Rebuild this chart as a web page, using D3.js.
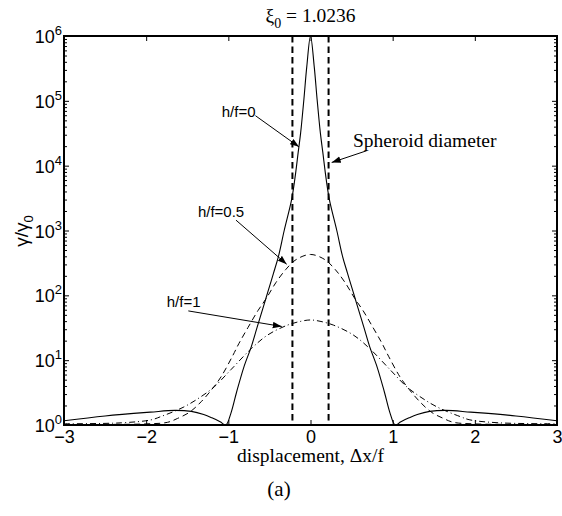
<!DOCTYPE html>
<html>
<head>
<meta charset="utf-8">
<script src="https://cdn.jsdelivr.net/npm/d3@7"></script>
<style>
  html, body { margin: 0; padding: 0; background: #fff; }
  svg { display: block; }
</style>
</head>
<body>
<svg id="chart" width="562" height="516"></svg>
<script>
// ---- data ----------------------------------------------------------------
const xTicks = [-3, -2, -1, 0, 1, 2, 3];
const yTicks = [1, 1e1, 1e2, 1e3, 1e4, 1e5, 1e6];

// h/f = 0 (solid)
const xSolid = [-3, -2.5, -1.95, -1.65, -1.45, -1.3, -1.2, -1.1, -1.03, -0.97,
  -0.9, -0.81, -0.72, -0.65, -0.56, -0.52, -0.45, -0.39, -0.32, -0.23,
  -0.19, -0.15, -0.12, -0.08, -0.045, 0, 0.045, 0.08, 0.12, 0.15,
  0.19, 0.23, 0.32, 0.39, 0.45, 0.52, 0.56, 0.65, 0.72, 0.81,
  0.9, 0.97, 1.03, 1.1, 1.2, 1.3, 1.45, 1.65, 1.95, 2.5, 3];
const gSolid = [1.16, 1.38, 1.58, 1.68, 1.62, 1.45, 1.29, 1.12, 1.0, 1.5,
  3.2, 7.9, 16.2, 32, 76, 112, 220, 400, 1000, 3000,
  6300, 16000, 32000, 107000, 340000, 1000000, 340000, 107000, 32000, 16000,
  6300, 3000, 1000, 400, 220, 112, 76, 32, 16.2, 7.9,
  3.2, 1.5, 1.0, 1.12, 1.29, 1.45, 1.62, 1.68, 1.58, 1.38, 1.16];

// h/f = 0.5 (dashed)
const xHalf = [-3, -2.5, -2.0, -1.74, -1.62, -1.47, -1.33, -1.2, -1.09, -0.95,
  -0.87, -0.76, -0.64, -0.54, -0.42, -0.30, -0.176, 0, 0.176, 0.30,
  0.42, 0.54, 0.64, 0.76, 0.87, 0.95, 1.09, 1.2, 1.33, 1.47,
  1.62, 1.74, 2.0, 2.5, 3];
const gHalf = [1.015, 1.02, 1.04, 1.10, 1.26, 1.58, 2.29, 3.55, 5.5, 11.5,
  18.2, 32, 58, 89, 158, 251, 355, 427, 355, 251,
  158, 89, 58, 32, 18.2, 11.5, 5.5, 3.55, 2.29, 1.58,
  1.26, 1.10, 1.04, 1.02, 1.015];

// h/f = 1 (dash-dot)
const xOne = [-3, -2.3, -1.94, -1.82, -1.54, -1.33, -1.17, -0.97, -0.72, -0.52,
  -0.28, -0.116, 0, 0.116, 0.28, 0.52, 0.72, 0.97, 1.17, 1.33,
  1.54, 1.82, 1.94, 2.3, 3];
const gOne = [1.045, 1.08, 1.2, 1.35, 1.9, 2.75, 3.9, 7.1, 15.1, 24.5,
  34.7, 39.8, 41.7, 39.8, 34.7, 24.5, 15.1, 7.1, 3.9, 2.75,
  1.9, 1.35, 1.2, 1.08, 1.045];

// spheroid diameter markers
const spheroidEdges = [-0.22, 0.22];

// annotation labels: text anchor point and arrow (data coordinates)
const noteText = ["h/f=0", "Spheroid diameter", "h/f=0.5", "h/f=1"];
const noteAt = [[-1.08, 5.6e4], [0.517, 1.95e4], [-1.37, 1620], [-1.75, 66.8]];
const noteFrom = [[-0.67, 5.9e4], [0.684, 1.7e4], [-0.907, 1445], [-1.487, 57.5]];
const noteTo = [[-0.14, 1.95e4], [0.258, 1.12e4], [-0.29, 302], [-0.35, 33.1]];

// ---- layout ----------------------------------------------------------------
const L = 64, R = 557, T = 36, B = 425;
const sans = "'Liberation Sans', Arial, Helvetica, sans-serif";
const serif = "'Liberation Serif', 'Times New Roman', serif";

const svg = d3.select("#chart");
const x = d3.scaleLinear().domain([-3, 3]).range([L, R]);
const y = d3.scaleLog().domain([1, 1e6]).range([B, T]);

const defs = svg.append("defs");
defs.append("clipPath").attr("id", "plotClip")
  .append("rect").attr("x", L).attr("y", T - 1).attr("width", R - L).attr("height", B - T + 1);
defs.append("marker").attr("id", "head")
  .attr("markerUnits", "userSpaceOnUse")
  .attr("markerWidth", 10).attr("markerHeight", 7)
  .attr("refX", 9).attr("refY", 3.2).attr("orient", "auto")
  .append("path").attr("d", "M0,0 L9,3.2 L0,6.4 Z").attr("fill", "#000");

// ---- axes ------------------------------------------------------------------
const minor = y.ticks().filter(v => !yTicks.includes(v));

function styleAxis(g) {
  g.select(".domain").remove();
  g.selectAll(".tick line").attr("stroke", "#000").attr("stroke-width", 1);
}

svg.append("g").attr("transform", `translate(0,${B})`)
  .call(d3.axisBottom(x).tickValues(xTicks).tickSize(-5).tickPadding(5).tickFormat(d3.format("d")))
  .call(styleAxis)
  .call(g => g.selectAll("text").attr("font-family", sans).attr("font-size", 18).attr("fill", "#000"));

svg.append("g").attr("transform", `translate(0,${T})`)
  .call(d3.axisTop(x).tickValues(xTicks).tickSize(-5).tickFormat(""))
  .call(styleAxis);

svg.append("g").attr("transform", `translate(${L},0)`)
  .call(d3.axisLeft(y).tickValues(yTicks).tickSize(-5).tickFormat(""))
  .call(styleAxis);
svg.append("g").attr("transform", `translate(${L},0)`)
  .call(d3.axisLeft(y).tickValues(minor).tickSize(-3).tickFormat(""))
  .call(styleAxis);
svg.append("g").attr("transform", `translate(${R},0)`)
  .call(d3.axisRight(y).tickValues(yTicks).tickSize(-5).tickFormat(""))
  .call(styleAxis);
svg.append("g").attr("transform", `translate(${R},0)`)
  .call(d3.axisRight(y).tickValues(minor).tickSize(-3).tickFormat(""))
  .call(styleAxis);

// y tick labels as powers of ten
const yl = svg.append("g").attr("font-family", sans).attr("fill", "#000");
yTicks.forEach(v => {
  const t = yl.append("text")
    .attr("x", L - 2).attr("y", y(v) + 7)
    .attr("text-anchor", "end").attr("font-size", 18);
  t.append("tspan").text("10");
  t.append("tspan").attr("dy", -8).attr("font-size", 13).text(String(Math.round(Math.log10(v))));
});

// ---- curves ----------------------------------------------------------------
const line = d3.line()
  .x(d => x(d[0])).y(d => y(d[1]))
  .curve(d3.curveCatmullRom.alpha(0.5));

const plot = svg.append("g").attr("clip-path", "url(#plotClip)");

plot.selectAll("line.edge").data(spheroidEdges).join("line")
  .attr("class", "edge")
  .attr("x1", d => x(d)).attr("x2", d => x(d))
  .attr("y1", y(1e6)).attr("y2", y(1))
  .attr("stroke", "#000").attr("stroke-width", 2)
  .attr("stroke-dasharray", "6.5,4");

plot.append("path").datum(d3.zip(xOne, gOne))
  .attr("d", line).attr("fill", "none").attr("stroke", "#000")
  .attr("stroke-width", 1).attr("stroke-dasharray", "6,3,1,3");

plot.append("path").datum(d3.zip(xHalf, gHalf))
  .attr("d", line).attr("fill", "none").attr("stroke", "#000")
  .attr("stroke-width", 1).attr("stroke-dasharray", "6,4");

plot.append("path").datum(d3.zip(xSolid, gSolid))
  .attr("d", line).attr("fill", "none").attr("stroke", "#000")
  .attr("stroke-width", 1.1);

// frame
svg.append("rect").attr("x", L).attr("y", T).attr("width", R - L).attr("height", B - T)
  .attr("fill", "none").attr("stroke", "#000").attr("stroke-width", 2);

// ---- annotations -----------------------------------------------------------
noteText.forEach((s, i) => {
  svg.append("line")
    .attr("x1", x(noteFrom[i][0])).attr("y1", y(noteFrom[i][1]))
    .attr("x2", x(noteTo[i][0])).attr("y2", y(noteTo[i][1]))
    .attr("stroke", "#000").attr("stroke-width", 1)
    .attr("marker-end", "url(#head)");
  svg.append("text")
    .attr("x", x(noteAt[i][0])).attr("y", y(noteAt[i][1]))
    .attr("font-family", i === 1 ? serif : sans)
    .attr("font-size", i === 1 ? 19.5 : 15)
    .attr("fill", "#000").text(s);
});

// ---- titles ----------------------------------------------------------------
const title = svg.append("text").attr("x", (L + R) / 2).attr("y", 22)
  .attr("text-anchor", "middle").attr("font-family", serif).attr("font-size", 19.5).attr("fill", "#000");
title.append("tspan").text("ξ");
title.append("tspan").attr("dy", 6).attr("font-size", 14).text("0");
title.append("tspan").attr("dy", -6).text(" = 1.0236");

svg.append("text").attr("x", (L + R) / 2).attr("y", 462)
  .attr("text-anchor", "middle").attr("font-family", serif).attr("font-size", 19.5)
  .attr("fill", "#000").text("displacement, Δx/f");

const ylab = svg.append("text")
  .attr("transform", `translate(28,231) rotate(-90)`)
  .attr("text-anchor", "middle").attr("font-family", sans).attr("font-size", 19).attr("fill", "#000");
ylab.append("tspan").text("γ/γ");
ylab.append("tspan").attr("dy", 5).attr("font-size", 13).text("0");

svg.append("text").attr("x", 279).attr("y", 496)
  .attr("text-anchor", "middle").attr("font-family", serif).attr("font-size", 21)
  .attr("fill", "#000").text("(a)");
</script>
</body>
</html>
